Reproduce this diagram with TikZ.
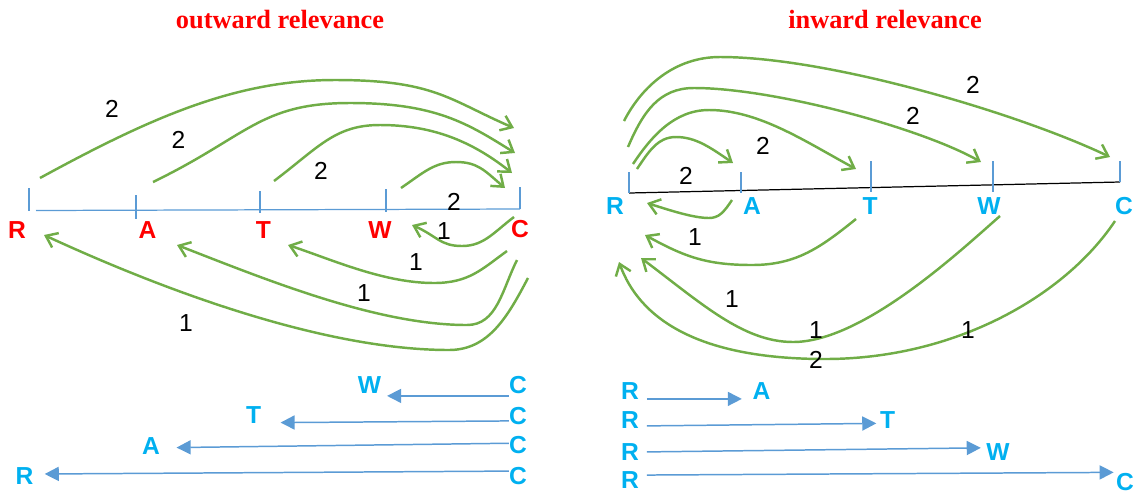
\documentclass[tikz,border=0pt]{standalone}
\usepackage{fontspec}
\setmainfont{Liberation Sans}
\newfontfamily\titlefont{Liberation Serif}
\usetikzlibrary{arrows.meta}
\definecolor{letterred} {HTML}{FF0000}
\definecolor{letterblue}{HTML}{00B0F0}
\definecolor{leaf}      {HTML}{70AD47}
\definecolor{steel}     {HTML}{5B9BD5}
\tikzset{
  % --- nodes
  ltr/.style  = {inner sep=0pt, font=\fontsize{14}{16}\selectfont\bfseries},
  rl/.style   = {ltr, text=letterred},
  bl/.style   = {ltr, text=letterblue},
  wt/.style   = {inner sep=0pt, font=\fontsize{14}{16}\selectfont},
  ttl/.style  = {anchor=base, inner sep=0pt, text=letterred,
                 font=\titlefont\bfseries\fontsize{15}{18}\selectfont},
  % --- edges
  arc/.style  = {-{Straight Barb[length=6pt,width=9pt]}, line width=1.4pt, draw=leaf},
  flow/.style = {-{Triangle[length=8pt,width=8pt]}, line width=0.85pt, draw=steel},
  axis/.style = {line width=0.7pt, draw=steel},
}
\begin{document}
\begin{tikzpicture}[x=0.02cm,y=-0.02cm]
  \useasboundingbox (0,0) rectangle (1135,495);
  \node[ttl] (otitle) at (280,28) {outward relevance};
  \node[ttl] (ititle) at (885,28) {inward relevance};

  % --- axes
  \draw[axis] (36,210.5) -- (520,209);
  \foreach \x/\a/\b in {29/188/211,136/195/219,260/191/213,386/189/212,520/187/209}
    \draw[axis] (\x,\a) -- (\x,\b);
  \draw[line width=0.7pt] (629,193) -- (1120,182);
  \foreach \x/\a/\b in {629/172/193,741/172/193,871/161/192,993/161/192,1120/161/182}
    \draw[axis] (\x,\a) -- (\x,\b);

  % --- letters on the axes
  \node[rl] (oR) at (17,230.5)   {R};
  \node[rl] (oA) at (147.5,230.5) {A};
  \node[rl] (oT) at (263.5,230.5) {T};
  \node[rl] (oW) at (380,230.5)  {W};
  \node[rl] (oC) at (520,229)    {C};
  \node[bl] (iR) at (615,206.5)  {R};
  \node[bl] (iA) at (752,206.5)  {A};
  \node[bl] (iT) at (870,206.5)  {T};
  \node[bl] (iW) at (989,206.5)  {W};
  \node[bl] (iC) at (1124,206.5) {C};

  % --- arc ends
  \coordinate (oRup) at (40,178);   \coordinate (oC1) at (514,128);
  \coordinate (oAup) at (153,182);  \coordinate (oC2) at (515,153);
  \coordinate (oTup) at (274,181);  \coordinate (oC3) at (512,173);
  \coordinate (oWup) at (401,188);  \coordinate (oC4) at (505,188);
  \coordinate (oCw) at (514,217);   \coordinate (oWdn) at (412,225);
  \coordinate (oCt) at (507,251);   \coordinate (oTdn) at (288,245);
  \coordinate (oCa) at (517,260);   \coordinate (oAdn) at (177,245);
  \coordinate (oCr) at (528,278);   \coordinate (oRdn) at (44,235);
  \coordinate (iR1) at (637,169);   \coordinate (iAup) at (733,163);
  \coordinate (iR2) at (633,164);   \coordinate (iTup) at (856,169);
  \coordinate (iR3) at (628,147);   \coordinate (iWup) at (981,162);
  \coordinate (iR4) at (624,121);   \coordinate (iCup) at (1110,157);
  \coordinate (iAdn) at (732,200);  \coordinate (iRa) at (647,203);
  \coordinate (iTdn) at (856,219);  \coordinate (iRt) at (645,235);
  \coordinate (iWdn) at (1000,216); \coordinate (iRw) at (641,258);
  \coordinate (iCdn) at (1115,221); \coordinate (iRc) at (619,262);

  % --- outward arcs
  \draw[arc] (oRup) .. controls +(110,-60) and +(-100,0) .. (335,80)
                    .. controls +(100,0) and +(-65,-28) .. (oC1);
  \draw[arc] (oAup) .. controls +(95,-46) and +(-90,0) .. (350,103)
                    .. controls +(85,0) and +(-48,-30) .. (oC2);
  \draw[arc] (oTup) .. controls +(45,-34) and +(-45,0) .. (380,125)
                    .. controls +(55,0) and +(-38,-30) .. (oC3);
  \draw[arc] (oWup) .. controls +(22,-15) and +(-22,0) .. (456,162)
                    .. controls +(22,0) and +(-20,-17) .. (oC4);
  \draw[arc] (oCw) .. controls +(-20,15) and +(22,0) .. (462,246)
                   .. controls +(-22,0) and +(25,11) .. (oWdn);
  \draw[arc] (oCt) .. controls +(-25,18) and +(35,0) .. (434,283)
                   .. controls +(-50,0) and +(45,15) .. (oTdn);
  \draw[arc] (oCa) .. controls +(-15,30) and +(30,0) .. (467,325)
                   .. controls +(-90,0) and +(90,35) .. (oAdn);
  \draw[arc] (oCr) .. controls +(-20,38) and +(40,0) .. (449,350)
                   .. controls +(-120,0) and +(130,60) .. (oRdn);

  % --- inward arcs
  \draw[arc] (iR1) .. controls +(12,-18) and +(-18,0) .. (676,137)
                   .. controls +(20,0) and +(-22,-15) .. (iAup);
  \draw[arc] (iR2) .. controls +(18,-27) and +(-35,0) .. (709,110)
                   .. controls +(50,0) and +(-50,-27) .. (iTup);
  \draw[arc] (iR3) .. controls +(15,-35) and +(-35,0) .. (694,88)
                   .. controls +(80,0) and +(-60,-34) .. (iWup);
  \draw[arc] (iR4) .. controls +(18,-35) and +(-45,0) .. (720,57)
                   .. controls +(110,0) and +(-90,-43) .. (iCup);
  \draw[arc] (iAdn) .. controls +(-8,12) and +(10,0) .. (709,218)
                    .. controls +(-15,0) and +(25,8) .. (iRa);
  \draw[arc] (iTdn) .. controls +(-35,28) and +(45,0) .. (752,265)
                    .. controls +(-45,0) and +(40,22) .. (iRt);
  \draw[arc] (iWdn) .. controls +(-40,35) and +(70,0) .. (793,342)
                    .. controls +(-50,0) and +(60,45) .. (iRw);
  \draw[arc] (iCdn) .. controls +(-50,75) and +(130,0) .. (825,359)
                    .. controls +(-130,0) and +(20,55) .. (iRc);

  % --- weights
  \node[wt] (ow1) at (112,109)     {2};
  \node[wt] (ow2) at (178.5,139.5) {2};
  \node[wt] (ow3) at (321,170.5)   {2};
  \node[wt] (ow4) at (454,201.5)   {2};
  \node[wt] (ow5) at (444,231)     {1};
  \node[wt] (ow6) at (416,262)     {1};
  \node[wt] (ow7) at (364,293)     {1};
  \node[wt] (ow8) at (186,323)     {1};
  \node[wt] (iw1) at (686,176)     {2};
  \node[wt] (iw2) at (763,146)     {2};
  \node[wt] (iw3) at (913,116)     {2};
  \node[wt] (iw4) at (973,85)      {2};
  \node[wt] (iw5) at (695,237)     {1};
  \node[wt] (iw6) at (732,299)     {1};
  \node[wt] (iw7) at (816,330)     {1};
  \node[wt] (iw8) at (968,330)     {1};
  \node[wt] (iw9) at (816,359.5)   {2};

  % --- outward pairs
  \node[bl] (lW)  at (369.5,385) {W};  \node[bl] (lCw) at (518,385) {C};
  \node[bl] (lT)  at (253.7,415) {T};  \node[bl] (lCt) at (518,416) {C};
  \node[bl] (lA)  at (151,446)   {A};  \node[bl] (lCa) at (518,445) {C};
  \node[bl] (lR)  at (24.6,476.5) {R}; \node[bl] (lCr) at (518,476) {C};
  \draw[flow, shorten >=3.2pt] ([yshift=-6.2pt]lCw.west) -- ([yshift=-6.2pt]lW.east);
  \draw[flow, shorten >=10.8pt] ([yshift=-2.8pt]lCt.west) -- ([yshift=-4.4pt]lT.east);
  \draw[flow, shorten >=9.3pt] ([yshift=1pt]lCa.west) -- ([yshift=-1pt]lA.east);
  \draw[flow, shorten >=6.2pt] ([yshift=2.8pt]lCr.west) -- ([yshift=1.4pt]lR.east);

  % --- inward pairs
  \node[bl] (rRa) at (630,391) {R};  \node[bl] (rA) at (761.6,391) {A};
  \node[bl] (rRt) at (630,420) {R};  \node[bl] (rT) at (887.5,420) {T};
  \node[bl] (rRw) at (630,452) {R};  \node[bl] (rW) at (998,452)   {W};
  \node[bl] (rRc) at (630,480) {R};  \node[bl] (rC) at (1125,482)  {C};
  \draw[flow, shorten <=4.3pt, shorten >=6pt] ([yshift=-4.5pt]rRa.east) -- ([yshift=-4.5pt]rA.west);
  \draw[flow, shorten <=4.3pt, shorten >=1.9pt] ([yshift=-3.4pt]rRt.east) -- ([yshift=-1.9pt]rT.west);
  \draw[flow, shorten <=4.3pt, shorten >=3pt] (rRw.east) -- ([yshift=2.4pt]rW.west);
  \draw[flow, shorten <=4.3pt, shorten >=1.2pt] ([yshift=2.8pt]rRc.east) -- ([yshift=5.5pt]rC.west);
\end{tikzpicture}
\end{document}
